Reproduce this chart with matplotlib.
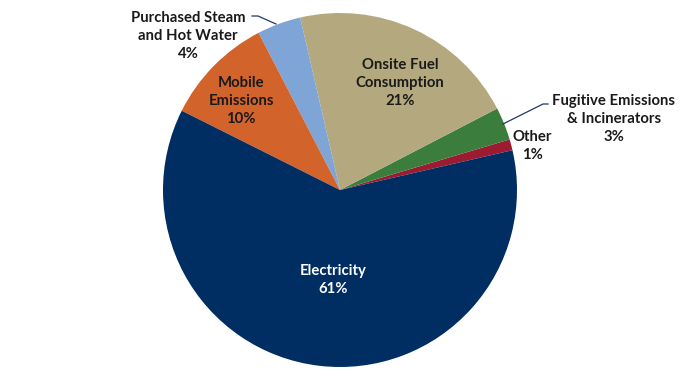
import matplotlib
matplotlib.use("Agg")
import matplotlib.pyplot as plt

categories = ["Other", "Fugitive Emissions & Incinerators", "Onsite Fuel Consumption",
              "Purchased Steam and Hot Water", "Mobile Emissions", "Electricity"]
values = [1, 3, 21, 4, 10, 61]
colors = ["#9C1A32", "#3B7D3C", "#B4A97E", "#7FA4D6", "#D2632A", "#002D62"]

plt.rcParams['font.family'] = ['Lato', 'DejaVu Sans']

fig = plt.figure(figsize=(6.8, 3.8), dpi=100)
ax = fig.add_axes([0, 0, 1, 1])

ax.pie(values, colors=colors, startangle=13, counterclock=True,
       center=(340, 190), radius=177, frame=True,
       wedgeprops=dict(linewidth=0))
ax.set_xlim(0, 680)
ax.set_ylim(0, 380)
ax.set_aspect('equal')
ax.axis('off')

def Y(y):
    return 380 - y

fs = 10.7
kw = dict(ha='center', va='center', fontsize=fs, fontweight='bold', linespacing=1.4)
ax.text(188, Y(36), "Purchased Steam\nand Hot Water\n4%", color='#1a1a1a', **kw)
ax.text(400, Y(83), "Onsite Fuel\nConsumption\n21%", color='#1a1a1a', **kw)
ax.text(241, Y(101), "Mobile\nEmissions\n10%", color='#1a1a1a', **kw)
ax.text(614, Y(119), "Fugitive Emissions\n& Incinerators\n3%", color='#1a1a1a', **kw)
ax.text(532, Y(146), "Other\n1%", color='#1a1a1a', **kw)
ax.text(333, Y(280), "Electricity\n61%", color='white', **kw)

ax.plot([252, 258, 276], [Y(16), Y(16), Y(24)], color='#1f3a5f', lw=0.9)
ax.plot([548, 543, 503], [Y(104), Y(104), Y(124)], color='#1f3a5f', lw=0.9)

fig.savefig("out.png", dpi=100)
